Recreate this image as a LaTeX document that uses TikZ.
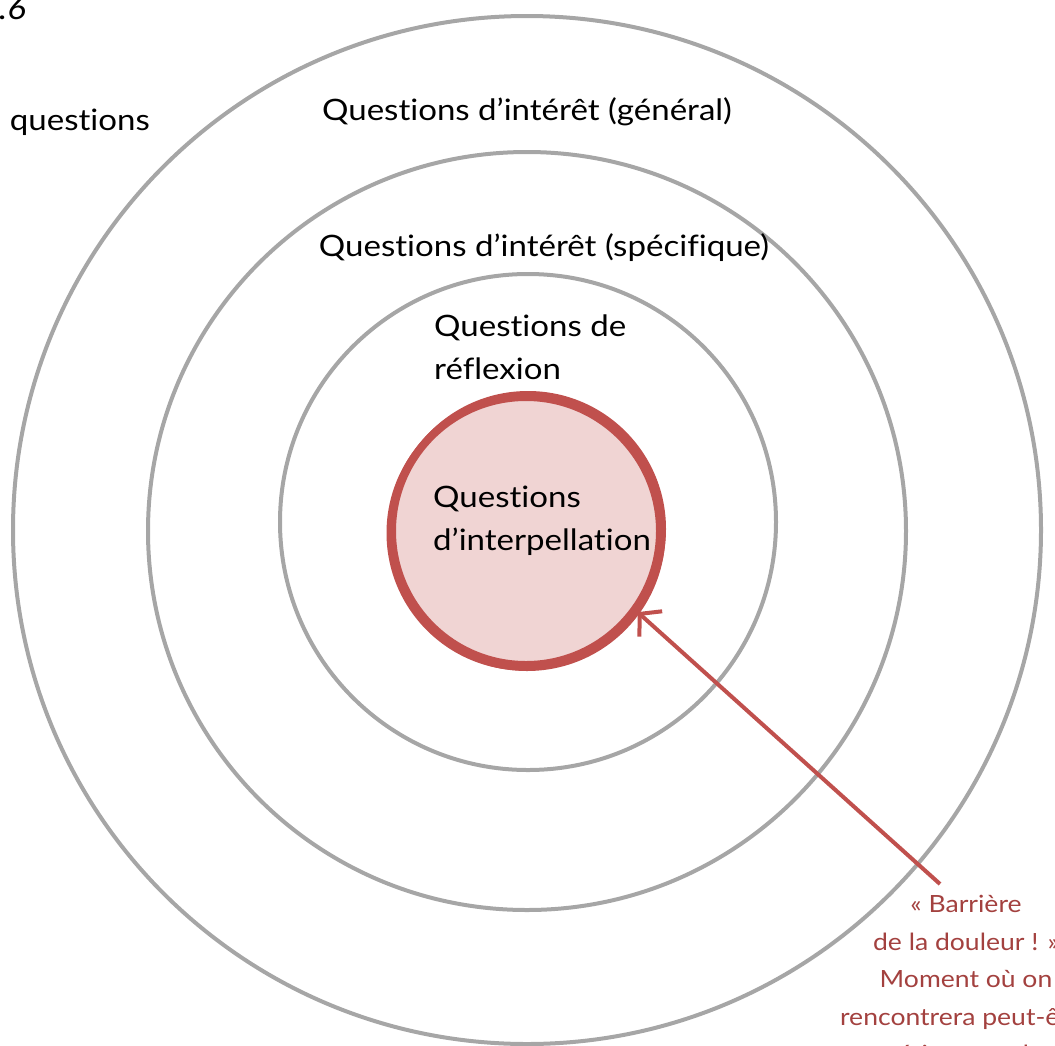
\documentclass[tikz,border=0pt]{standalone}
\usepackage{fontspec}
\setmainfont{Lato}[Ligatures={NoCommon}, FakeStretch=1.12]
\usetikzlibrary{arrows.meta}
\definecolor{ringgrey}{HTML}{A6A6A6}
\definecolor{ringred}{HTML}{C0504D}
\definecolor{pinkfill}{HTML}{F0D4D3}
\definecolor{notered}{HTML}{A3413F}
\tikzset{
  ring/.style={circle, draw=ringgrey, line width=4pt, inner sep=0pt},
  corering/.style={circle, draw=ringred, fill=pinkfill, line width=8pt, inner sep=0pt},
  lbl/.style={font=\fontsize{29.5}{43}\selectfont, text=black, inner sep=0pt},
  note/.style={font=\fontsize{23.7}{37.5}\selectfont, text=notered, align=center, inner sep=0pt},
  pointer/.style={draw=ringred, line width=4pt, -{Straight Barb[length=15pt,width=34pt,line width=4pt]}}
}
\begin{document}
\begin{tikzpicture}[x=1pt,y=-1pt]
\useasboundingbox (0,0) rectangle (1055,1045);
\clip (0,0) rectangle (1055,1045);
% rings
\node[ring, minimum size=1028pt] (outer) at (527,530) {};
\node[ring, minimum size=758pt] (middle) at (527,531) {};
\node[ring, minimum size=496pt] (inner) at (528,522) {};
% red centre, hand-drawn look
\node[corering, minimum size=268pt] (core) at (526,531) {};
\draw[ringred, line width=4pt] (528,529) circle[radius=136];
\draw[ringred, line width=4pt] (524,533) circle[radius=135.5];
\draw[ringred, line width=3pt] (527,532.5) circle[radius=137];
% labels
\node[lbl] (general) at (527,112) {Questions d’intérêt (général)};
\node[lbl] (specific) at (544,248) {Questions d’intérêt (spécifique)};
\node[lbl, anchor=west, align=left] (reflex) at (434,347) {Questions de\\réflexion};
\node[lbl, anchor=west, align=left] (interp) at (433,521) {Questions\\d’interpellation};
\node[lbl, anchor=east] (qleft) at (150,122) {questions};
\node[lbl, anchor=east, font=\fontsize{31}{36}\itshape] (fig) at (26,9) {.6};
% note
\node[note, anchor=north] (note) at (966,895) {« Barrière\\de la douleur ! »\\Moment où on\\rencontrera peut-être\\réticences de};
\coordinate (start) at (940,884);
\draw[pointer] (start) -- (core.-36);
\end{tikzpicture}
\end{document}
